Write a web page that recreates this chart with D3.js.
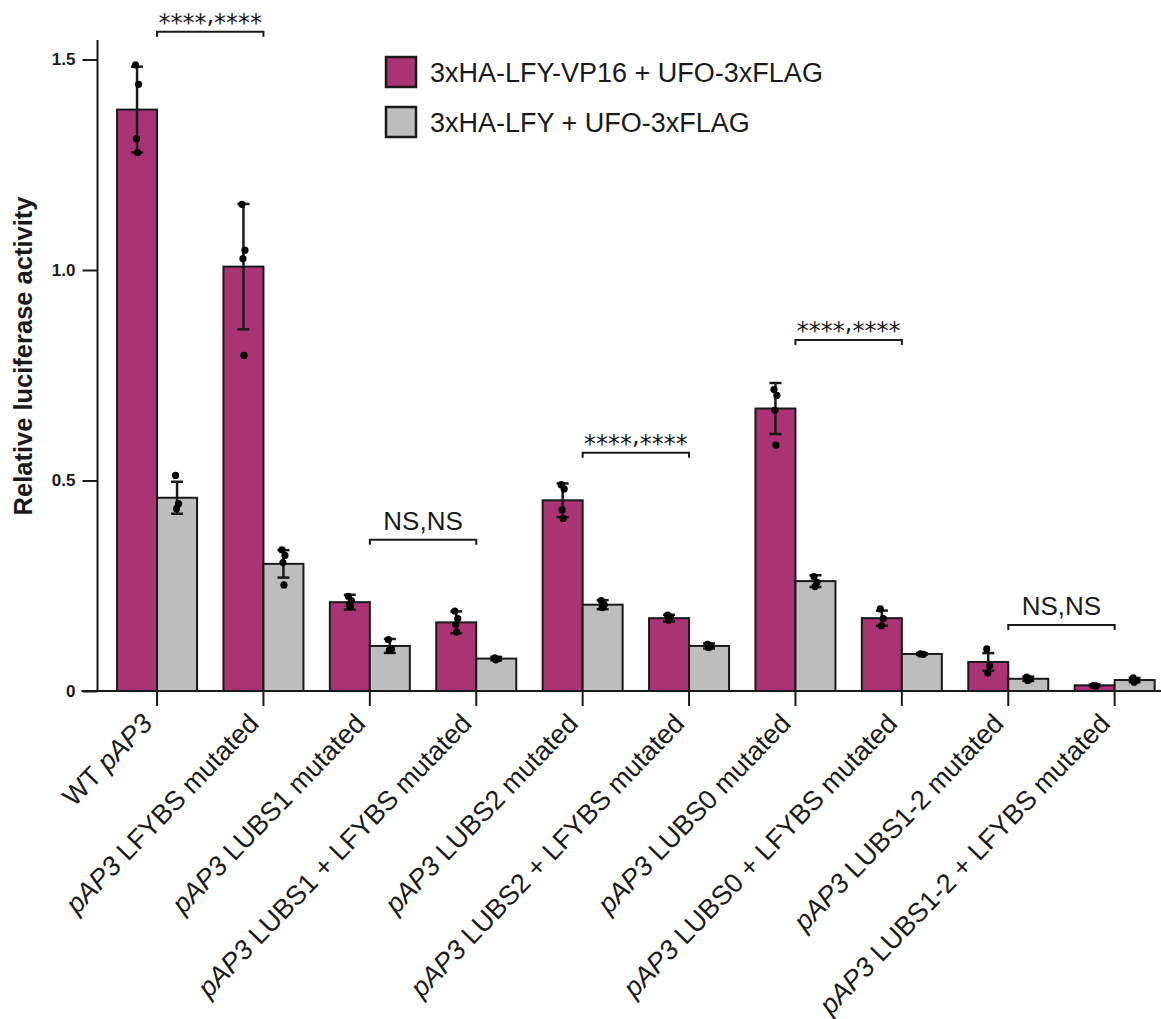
<!DOCTYPE html>
<html>
<head>
<meta charset="utf-8">
<script src="https://cdn.jsdelivr.net/npm/d3@7"></script>
<style>
  body { margin: 0; background: #fff; }
  text { font-family: "Liberation Sans", Arial, sans-serif; }
</style>
</head>
<body>
<div id="chart"></div>
<script>
// categories (italic part + plain part of each label)
var catPrefix = ["WT ", "", "", "", "", "", "", "", "", ""];
var catItalic = ["pAP3", "pAP3", "pAP3", "pAP3", "pAP3", "pAP3", "pAP3", "pAP3", "pAP3", "pAP3"];
var catRest = ["", " LFYBS mutated", " LUBS1 mutated", " LUBS1 + LFYBS mutated", " LUBS2 mutated",
               " LUBS2 + LFYBS mutated", " LUBS0 mutated", " LUBS0 + LFYBS mutated", " LUBS1-2 mutated",
               " LUBS1-2 + LFYBS mutated"];

var seriesNames = ["3xHA-LFY-VP16 + UFO-3xFLAG", "3xHA-LFY + UFO-3xFLAG"];

// means
var vp16Mean = [1.381, 1.008, 0.211, 0.163, 0.453, 0.173, 0.671, 0.173, 0.069, 0.0135];
var lfyMean  = [0.459, 0.302, 0.107, 0.077, 0.205, 0.107, 0.261, 0.088, 0.029, 0.026];
// standard deviations
var vp16SD = [0.102, 0.149, 0.0175, 0.026, 0.040, 0.008, 0.0606, 0.018, 0.021, 0.002];
var lfySD  = [0.038, 0.0326, 0.0166, 0.004, 0.0107, 0.006, 0.014, 0.002, 0.005, 0.005];
// replicate points
var vp16Pts = [[1.487, 1.441, 1.312, 1.279], [1.156, 1.047, 1.027, 0.797], [0.225, 0.215, 0.205, 0.200],
               [0.190, 0.172, 0.158, 0.140], [0.490, 0.480, 0.430, 0.410], [0.180, 0.175, 0.168],
               [0.716, 0.702, 0.667, 0.584], [0.195, 0.172, 0.155], [0.100, 0.060, 0.043], [0.013, 0.012]];
var lfyPts  = [[0.512, 0.445, 0.433], [0.335, 0.322, 0.305, 0.252], [0.122, 0.100, 0.097],
               [0.079, 0.076, 0.074], [0.215, 0.205, 0.198], [0.111, 0.106, 0.103],
               [0.272, 0.258, 0.248], [0.088, 0.087], [0.033, 0.028, 0.025], [0.031, 0.025, 0.021]];

// significance brackets: from group, to group, label, height (data units)
var sigFrom = [0, 2, 4, 6, 8];
var sigTo = [1, 3, 5, 7, 9];
var sigLabel = ["****,****", "NS,NS", "****,****", "****,****", "NS,NS"];
var sigLevel = [1.566, 0.359, 0.566, 0.834, 0.157];

var yTicks = [0, 0.5, 1.0, 1.5];

var width = 1161, height = 1019;
var magenta = "#a93373", grey = "#bebebe", ink = "#1a1a1a";

var svg = d3.select("#chart").append("svg")
    .attr("width", width)
    .attr("height", height);

var y = d3.scaleLinear().domain([0, 1.5]).range([691, 59.5]);

var x = d3.scaleBand()
    .domain(d3.range(10))
    .range([103.85, 1167.85])
    .paddingInner(0).paddingOuter(0);

var sub = d3.scaleBand()
    .domain([0, 1])
    .range([x.bandwidth() / 2 - 40, x.bandwidth() / 2 + 40]);

var series = [
    {mean: vp16Mean, sd: vp16SD, pts: vp16Pts, color: magenta},
    {mean: lfyMean, sd: lfySD, pts: lfyPts, color: grey}
];

// bars
series.forEach(function(s, si) {
    var g = svg.append("g");
    g.selectAll("rect")
        .data(s.mean)
        .enter()
        .append("rect")
        .attr("x", (d, i) => x(i) + sub(si))
        .attr("y", d => y(d))
        .attr("width", sub.bandwidth())
        .attr("height", d => y(0) - y(d))
        .attr("fill", s.color)
        .attr("stroke", ink)
        .attr("stroke-width", 2);
});

// error bars + points
var jit = [-1.5, 1.5, -0.5, 0.5];
series.forEach(function(s, si) {
    s.mean.forEach(function(m, i) {
        var cx = x(i) + sub(si) + sub.bandwidth() / 2;
        var g = svg.append("g");
        g.append("line")
            .attr("x1", cx).attr("x2", cx)
            .attr("y1", y(m - s.sd[i])).attr("y2", y(m + s.sd[i]))
            .attr("stroke", ink).attr("stroke-width", 2.5);
        [m - s.sd[i], m + s.sd[i]].forEach(function(v) {
            g.append("line")
                .attr("x1", cx - 6).attr("x2", cx + 6)
                .attr("y1", y(v)).attr("y2", y(v))
                .attr("stroke", ink).attr("stroke-width", 2.5);
        });
        g.selectAll("circle")
            .data(s.pts[i])
            .enter()
            .append("circle")
            .attr("cx", (d, k) => cx + jit[k % 4])
            .attr("cy", d => y(d))
            .attr("r", 3.6)
            .attr("fill", "#000");
    });
});

// y axis
var yAxis = svg.append("g")
    .attr("transform", "translate(97.5,0)")
    .call(d3.axisLeft(y).tickValues(yTicks).tickSize(15).tickPadding(7).tickSizeOuter(0)
        .tickFormat(d => d === 0 ? "0" : d3.format(".1f")(d)));
yAxis.select(".domain").attr("d", "M0," + y(0) + "V40");
yAxis.selectAll("line, path").attr("stroke", ink).attr("stroke-width", 2);
yAxis.selectAll("text")
    .attr("font-family", "'Liberation Sans', Arial, sans-serif")
    .attr("font-size", 17).attr("font-weight", "bold").attr("fill", ink);

svg.append("text")
    .attr("transform", "translate(32," + 356 + ") rotate(-90)")
    .attr("text-anchor", "middle")
    .attr("font-size", 25.5)
    .attr("font-weight", "bold")
    .attr("fill", ink)
    .text("Relative luciferase activity");

// x axis
var xAxis = svg.append("g")
    .attr("transform", "translate(0," + y(0) + ")")
    .call(d3.axisBottom(x).tickSize(15).tickSizeOuter(0).tickFormat(""));
xAxis.select(".domain").attr("d", "M81.5,0H1161");
xAxis.selectAll("line, path").attr("stroke", ink).attr("stroke-width", 2);

var labels = svg.append("g").selectAll("text")
    .data(d3.range(10))
    .enter()
    .append("text")
    .attr("transform", i => "translate(" + (x(i) + x.bandwidth() / 2 - 3) + ",725) rotate(-46)")
    .attr("text-anchor", "end")
    .attr("font-size", 27)
    .attr("fill", ink);
labels.append("tspan").text(i => catPrefix[i]);
labels.append("tspan").attr("font-style", "italic").text(i => catItalic[i]);
labels.append("tspan").text(i => catRest[i]);

// significance brackets
sigLabel.forEach(function(lab, k) {
    var x1 = x(sigFrom[k]) + x.bandwidth() / 2;
    var x2 = x(sigTo[k]) + x.bandwidth() / 2;
    var yl = y(sigLevel[k]);
    svg.append("path")
        .attr("d", "M" + x1 + "," + (yl + 5) + "V" + yl + "H" + x2 + "V" + (yl + 5))
        .attr("fill", "none").attr("stroke", ink).attr("stroke-width", 2);
    var t = svg.append("text")
        .attr("x", (x1 + x2) / 2)
        .attr("text-anchor", "middle")
        .attr("fill", ink);
    if (lab === "NS,NS") {
        t.attr("y", yl - 10).attr("font-size", 26).text(lab);
    } else {
        // asterisks sit lower than the comma in the original
        var parts = lab.split(",");
        t.attr("y", yl - 1).attr("font-size", 24)
            .style("font-family", "'DejaVu Sans', sans-serif");
        t.append("tspan").text(parts[0]);
        t.append("tspan").attr("dy", -8).text(",");
        t.append("tspan").attr("dy", 8).text(parts[1]);
    }
});

// legend
var legend = svg.append("g").attr("transform", "translate(386,57)");
seriesNames.forEach(function(name, i) {
    legend.append("rect")
        .attr("x", 0).attr("y", i * 50)
        .attr("width", 30).attr("height", 30)
        .attr("fill", series[i].color)
        .attr("stroke", ink).attr("stroke-width", 2.5);
    legend.append("text")
        .attr("x", 44).attr("y", i * 50 + 25)
        .attr("font-size", 27)
        .attr("fill", ink)
        .text(name);
});
</script>
</body>
</html>
